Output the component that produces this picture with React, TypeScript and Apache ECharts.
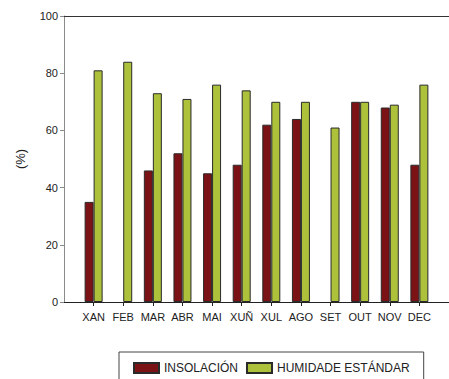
import React, { useEffect, useRef } from "react";
import * as echarts from "echarts";

const months = ["XAN", "FEB", "MAR", "ABR", "MAI", "XUÑ", "XUL", "AGO", "SET", "OUT", "NOV", "DEC"];
const insolacion: (number | null)[] = [35, null, 46, 52, 45, 48, 62, 64, null, 70, 68, 48];
const humidade: (number | null)[] = [81, 84, 73, 71, 76, 74, 70, 70, 61, 70, 69, 76];
const yTicks = [0, 20, 40, 60, 80, 100];
const seriesNames = ["INSOLACIÓN", "HUMIDADE ESTÁNDAR"];
const positions = months.map((_, i) => i + 1);

const FONT = "'Liberation Sans', Arial, Helvetica, sans-serif";

export default function App() {
  const ref = useRef<HTMLDivElement>(null);
  useEffect(() => {
    document.body.style.margin = "0";
    if (!ref.current) return;
    const chart = echarts.init(ref.current, undefined, { renderer: "svg" });
    chart.setOption({
      animation: false,
      backgroundColor: "#ffffff",
      textStyle: { fontFamily: FONT },
      grid: { left: 64, top: 16, bottom: 77, right: -12, containLabel: false },
      legend: {
        left: 119,
        top: 352,
        padding: [10, 14, 20, 14],
        borderColor: "#444",
        borderWidth: 1,
        itemWidth: 25,
        itemHeight: 10,
        itemGap: 8,
        icon: "rect",
        textStyle: { fontSize: 12, color: "#222", fontFamily: FONT },
        data: seriesNames,
      },
      xAxis: [
        {
          type: "value",
          min: 0,
          max: 13,
          position: "bottom",
          splitLine: { show: false },
          axisLine: { show: true, lineStyle: { color: "#222", width: 1 } },
          axisTick: {
            show: true,
            customValues: positions,
            length: 4,
            lineStyle: { color: "#222" },
          },
          axisLabel: {
            customValues: positions,
            formatter: (v: number) => months[Math.round(v) - 1] ?? "",
            fontSize: 11,
            color: "#222",
            margin: 9,
            fontFamily: FONT,
          },
        },
        {
          type: "value",
          min: 0,
          max: 13,
          position: "top",
          splitLine: { show: false },
          axisLine: { show: true, lineStyle: { color: "#333", width: 1 } },
          axisTick: { show: false },
          axisLabel: { show: false },
        },
      ],
      yAxis: {
        type: "value",
        min: 0,
        max: 100,
        interval: 20,
        name: "(%)",
        nameLocation: "middle",
        nameGap: 37,
        nameTextStyle: { fontSize: 13, color: "#222", fontFamily: FONT },
        splitLine: { show: false },
        axisLine: { show: true, lineStyle: { color: "#8a8a8a", width: 1 } },
        axisTick: { show: true, length: 4, lineStyle: { color: "#8a8a8a" } },
        axisLabel: {
          fontSize: 11,
          color: "#222",
          margin: 6,
          fontFamily: FONT,
          formatter: (v: number) => (yTicks.includes(v) ? String(v) : ""),
        },
      },
      series: [
        {
          name: seriesNames[0],
          type: "bar",
          xAxisIndex: 0,
          barWidth: 9,
          barGap: "0%",
          data: insolacion.map((v, i) => [positions[i], v]),
          itemStyle: { color: "#7b1215", borderColor: "#2a2a2a", borderWidth: 1 },
        },
        {
          name: seriesNames[1],
          type: "bar",
          xAxisIndex: 0,
          barWidth: 9,
          barGap: "0%",
          data: humidade.map((v, i) => [positions[i], v]),
          itemStyle: { color: "#adc13a", borderColor: "#2a2a2a", borderWidth: 1 },
        },
      ],
    });
    return () => chart.dispose();
  }, []);
  return <div ref={ref} style={{ width: 449, height: 379 }} />;
}
